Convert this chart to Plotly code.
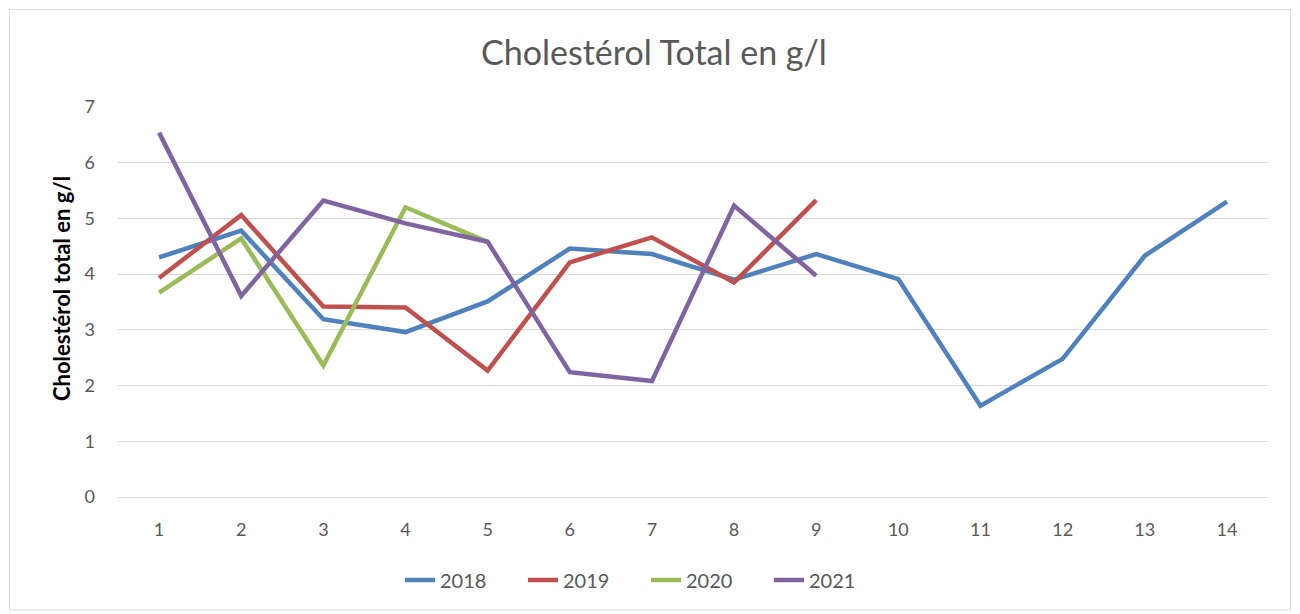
import plotly.graph_objects as go

categories = list(range(1, 15))
v2018 = [4.30, 4.78, 3.19, 2.96, 3.51, 4.46, 4.36, 3.90, 4.36, 3.91, 1.64, 2.48, 4.33, 5.30]
v2019 = [3.93, 5.06, 3.42, 3.40, 2.27, 4.21, 4.66, 3.85, 5.33]
v2020 = [3.67, 4.64, 2.36, 5.20, 4.58]
v2021 = [6.54, 3.61, 5.32, 4.91, 4.58, 2.24, 2.08, 5.23, 3.97]
series = [("2018", v2018, "#4F81BD"), ("2019", v2019, "#C0504D"),
          ("2020", v2020, "#9BBB59"), ("2021", v2021, "#8064A2")]
y_ticks = [0, 1, 2, 3, 4, 5, 6, 7]

OFF = 8  # page body offset
W, H = 1300 - OFF, 614 - OFF
L, R, T, B = 118 - OFF, 1268 - OFF, 107 - OFF, 497 - OFF

fig = go.Figure()
for name, vals, color in series:
    fig.add_trace(go.Scatter(x=categories[:len(vals)], y=vals, name=name, mode="lines",
                             line=dict(color=color, width=4.5)))

def px_x(p):
    return (p - OFF - L) / (R - L)

def px_y(p):
    return (B - (p - OFF)) / (B - T)

fig.update_layout(
    width=W, height=H,
    margin=dict(l=L, r=W - R, t=T, b=H - B, pad=0),
    paper_bgcolor="white", plot_bgcolor="white",
    font=dict(family="Lato, Noto Sans, sans-serif", color="#595959", size=18),
    title=dict(text="Cholestérol Total en g/l", x=0.5, xanchor="center",
               y=1 - (53 - OFF) / H, yanchor="middle",
               font=dict(size=34, color="#595959")),
    xaxis=dict(range=[0.5, 14.5], tickmode="array", tickvals=categories,
               ticktext=[str(c) for c in categories], showgrid=False,
               showline=True, linecolor="#D9D9D9", linewidth=1, zeroline=False,
               ticks="", ticklabelstandoff=16),
    yaxis=dict(range=[0, 7], tickmode="array", tickvals=y_ticks,
               showgrid=True, gridcolor="#D9D9D9", gridwidth=1, zeroline=False,
               showline=False, ticks="", ticklabelstandoff=22),
    legend=dict(orientation="h", x=px_x(646), xanchor="center", y=px_y(580), yanchor="middle",
                font=dict(size=20, color="#595959"), entrywidth=78, entrywidthmode="pixels"),
    showlegend=True,
)

fig.add_annotation(text="<b>Cholestérol total en g/l</b>", textangle=-90,
                   xref="paper", yref="paper", x=px_x(61), y=px_y(289),
                   xanchor="center", yanchor="middle",
                   showarrow=False, font=dict(size=22, color="black"))

fig.add_shape(type="rect", xref="paper", yref="paper",
              x0=px_x(9.5), x1=px_x(1290.5), y0=px_y(610), y1=px_y(9.5),
              line=dict(color="#D9D9D9", width=1), layer="below")

fig.write_html("out.html")
